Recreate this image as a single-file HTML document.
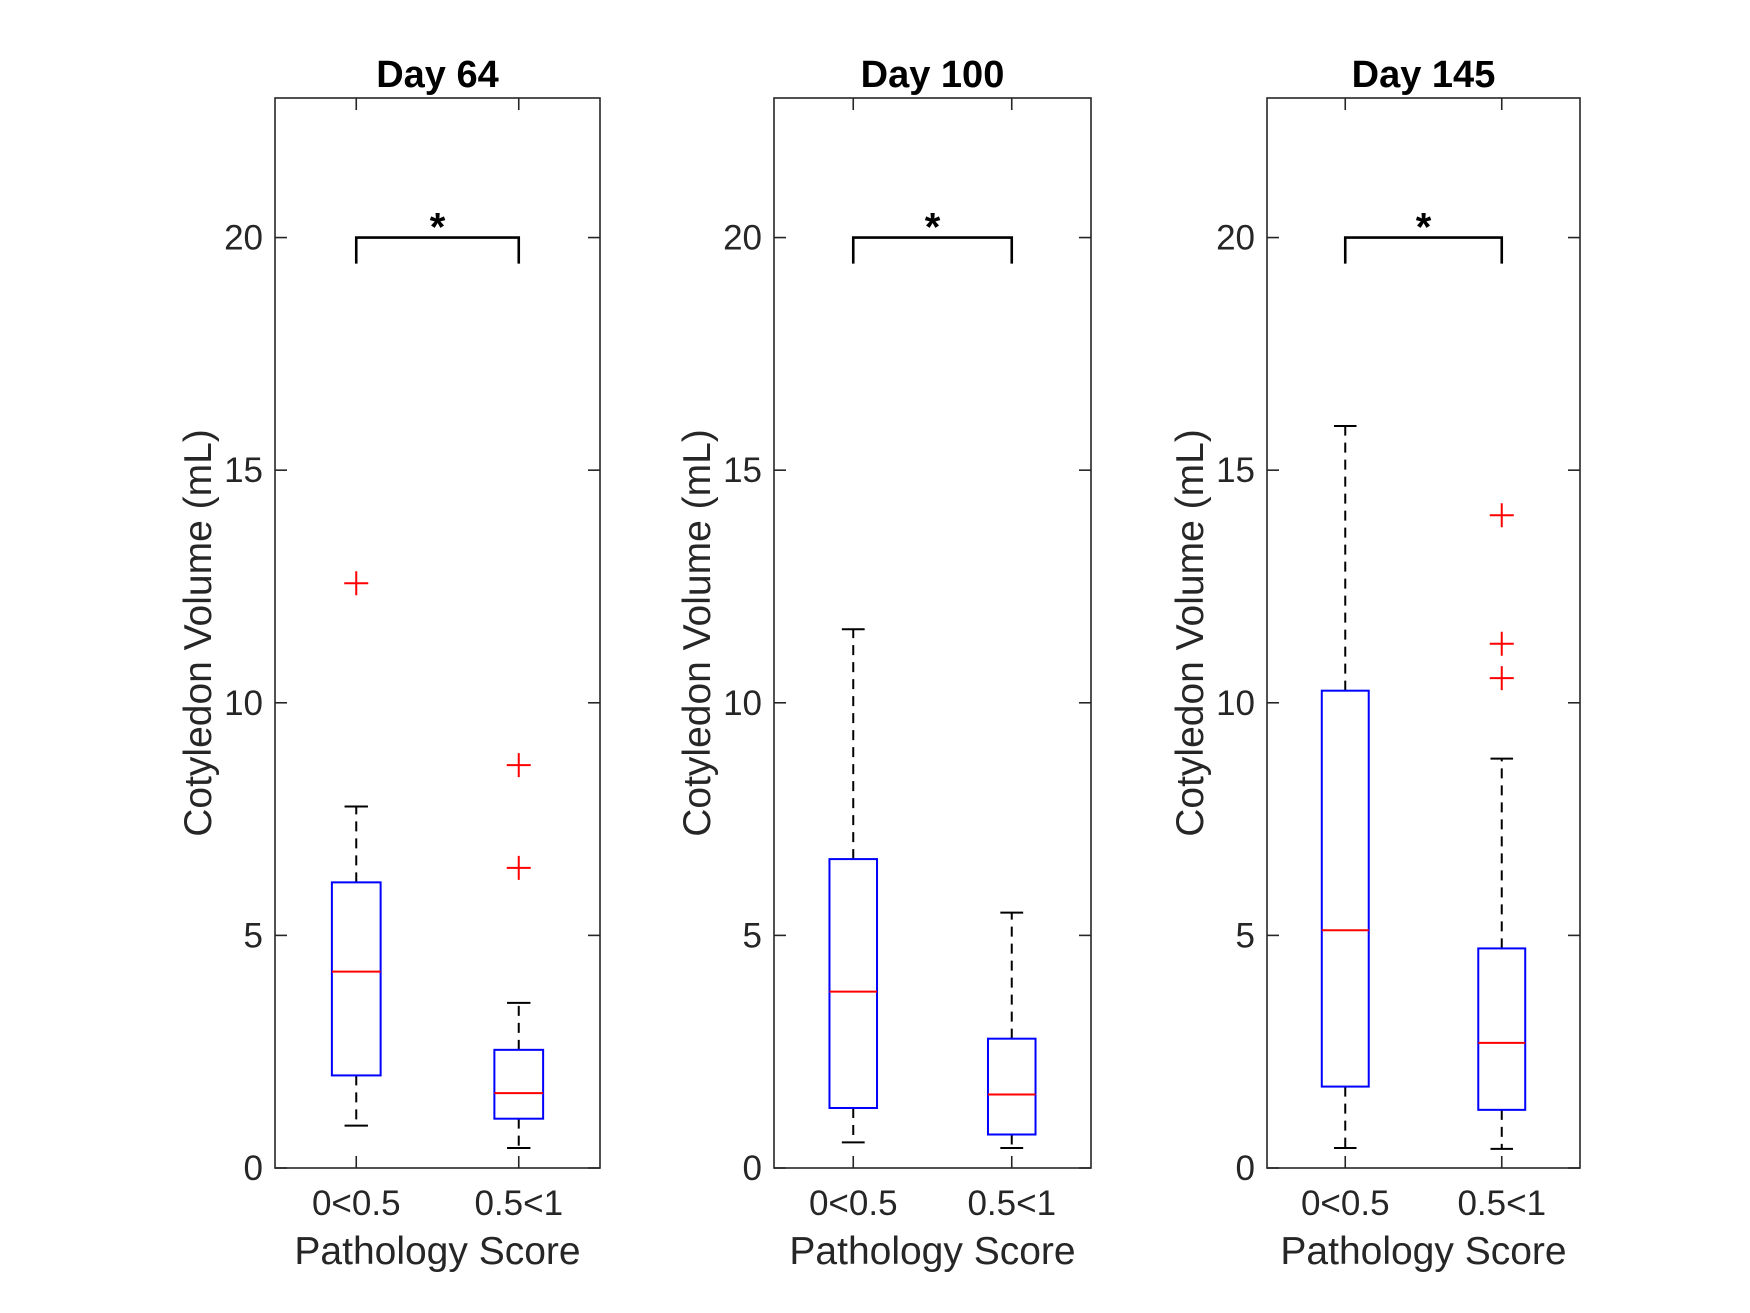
<!DOCTYPE html>
<html><head><meta charset="utf-8"><style>
html,body{margin:0;padding:0;background:#fff;}
svg{display:block;font-family:"Liberation Sans",Arial,sans-serif;}
</style></head><body>
<svg id="chart" width="1750" height="1313" viewBox="0 0 1750 1313" xmlns="http://www.w3.org/2000/svg"></svg>
<script>
const panelTitles = ["Day 64", "Day 100", "Day 145"];
const categories = ["0<0.5", "0.5<1"];
const yTicks = [0, 5, 10, 15, 20];
// per panel, per category: [lowerWhisker, q1, median, q3, upperWhisker]
const day64Stats = [[0.91, 1.99, 4.22, 6.14, 7.77], [0.43, 1.06, 1.61, 2.54, 3.55]];
const day100Stats = [[0.55, 1.29, 3.79, 6.64, 11.58], [0.43, 0.72, 1.58, 2.78, 5.49]];
const day145Stats = [[0.43, 1.75, 5.11, 10.26, 15.95], [0.41, 1.25, 2.69, 4.72, 8.8]];
const day64Outliers = [[12.57], [8.66, 6.45]];
const day100Outliers = [[], []];
const day145Outliers = [[], [14.03, 11.27, 10.53]];
const sigLevel = [20, 20, 20];

const panels = [
  {left:275, right:600, stats:day64Stats, out:day64Outliers},
  {left:774, right:1091, stats:day100Stats, out:day100Outliers},
  {left:1267, right:1580, stats:day145Stats, out:day145Outliers}
];
const yTop = 98, yBottom = 1168, yMax = 23;
const NS = "http://www.w3.org/2000/svg";
const svg = document.getElementById("chart");
function mk(tag, attrs, parent){
  const e = document.createElementNS(NS, tag);
  for (const k in attrs) e.setAttribute(k, attrs[k]);
  (parent||svg).appendChild(e); return e;
}
const yS = v => yBottom - v/yMax*(yBottom-yTop);

panels.forEach((p, pi) => {
  const g = mk("g", {});
  
  
  const cx = i => p.left + (0.25 + 0.5*i) * (p.right - p.left);
  const bhw = 0.075 * (p.right - p.left);
  const cap = 0.036 * (p.right - p.left);
  const ax = mk("rect", {x:p.left, y:yTop, width:p.right-p.left, height:yBottom-yTop, fill:"none", stroke:"#262626", "stroke-width":1.6}, g);
  
  
  yTicks.forEach(t => {
    const y = yS(t);
    mk("line", {x1:p.left, x2:p.left+12, y1:y, y2:y, stroke:"#262626", "stroke-width":1.6}, g);
    mk("line", {x1:p.right-12, x2:p.right, y1:y, y2:y, stroke:"#262626", "stroke-width":1.6}, g);
    const tl = mk("text", {x:p.left-12, y:y+12, "text-anchor":"end", "font-size":35, fill:"#262626"}, g);
    tl.textContent = t;
    
    
  });
  categories.forEach((c, i) => {
    const x = cx(i);
    mk("line", {x1:x, x2:x, y1:yBottom, y2:yBottom-12, stroke:"#262626", "stroke-width":1.6}, g);
    mk("line", {x1:x, x2:x, y1:yTop, y2:yTop+12, stroke:"#262626", "stroke-width":1.6}, g);
    const tl = mk("text", {x:x, y:1215, "text-anchor":"middle", "font-size":35, fill:"#262626"}, g);
    tl.textContent = c;
    
    
  });
  p.stats.forEach((s, i) => {
    const x = cx(i);
    const bg = mk("g", {}, g);
    
    
    mk("line", {x1:x, x2:x, y1:yS(s[3]), y2:yS(s[4]), stroke:"#000", "stroke-width":2, "stroke-dasharray":"10,7"}, bg);
    mk("line", {x1:x, x2:x, y1:yS(s[1]), y2:yS(s[0]), stroke:"#000", "stroke-width":2, "stroke-dasharray":"10,7"}, bg);
    mk("line", {x1:x-cap, x2:x+cap, y1:yS(s[4]), y2:yS(s[4]), stroke:"#000", "stroke-width":2}, bg);
    mk("line", {x1:x-cap, x2:x+cap, y1:yS(s[0]), y2:yS(s[0]), stroke:"#000", "stroke-width":2}, bg);
    mk("rect", {x:x-bhw, y:yS(s[3]), width:2*bhw, height:yS(s[1])-yS(s[3]), fill:"none", stroke:"#0000ff", "stroke-width":2}, bg);
    mk("line", {x1:x-bhw, x2:x+bhw, y1:yS(s[2]), y2:yS(s[2]), stroke:"#ff0000", "stroke-width":2}, bg);
    p.out[i].forEach(v => {
      const y = yS(v);
      const o = mk("path", {d:`M${x-12},${y}H${x+12}M${x},${y-12}V${y+12}`, stroke:"#ff0000", "stroke-width":2, fill:"none"}, bg);
      
      
    });
  });
  const sy = yS(sigLevel[pi]), ly = yS(sigLevel[pi]-0.56);
  const br = mk("path", {d:`M${cx(0)},${ly}V${sy}H${cx(1)}V${ly}`, stroke:"#000", "stroke-width":2.6, fill:"none"}, g);
  
  
  const st = mk("text", {x:(cx(0)+cx(1))/2, y:sy+3, "text-anchor":"middle", "font-size":40, "font-weight":"bold", fill:"#000"}, g);
  st.textContent = "*";
  
  
  const mid = (p.left+p.right)/2;
  const tt = mk("text", {x:mid, y:87, "text-anchor":"middle", "font-size":38, "font-weight":"bold", fill:"#000"}, g);
  tt.textContent = panelTitles[pi];
  
  
  const xl = mk("text", {x:mid, y:1264, "text-anchor":"middle", "font-size":39, fill:"#262626"}, g);
  xl.textContent = "Pathology Score";
  
  
  const ycx = p.left - 64, ycy = (yTop+yBottom)/2;
  const yl = mk("text", {x:ycx, y:ycy, "text-anchor":"middle", "font-size":39, fill:"#262626", transform:`rotate(-90 ${ycx} ${ycy})`}, g);
  yl.textContent = "Cotyledon Volume (mL)";
  
  
});
</script>
</body></html>
